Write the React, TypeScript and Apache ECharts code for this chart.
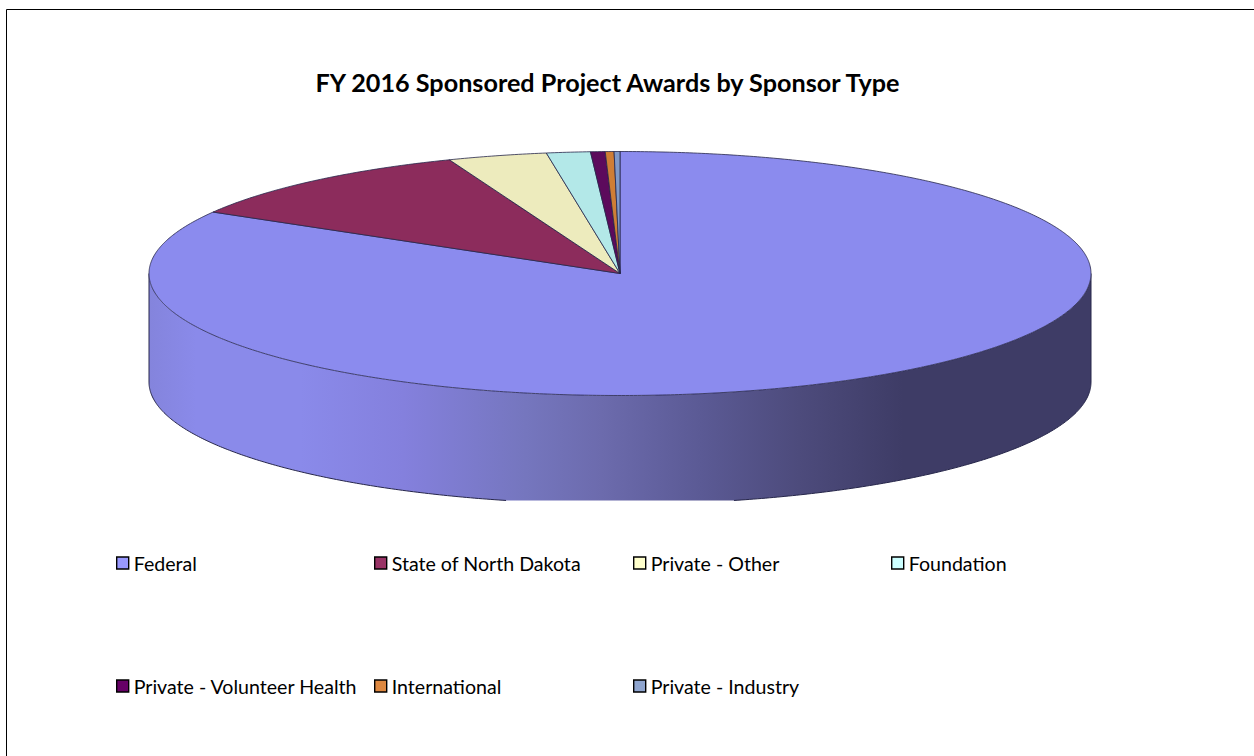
import React, { useEffect, useRef } from "react";
import * as echarts from "echarts";

const titleText = "FY 2016 Sponsored Project Awards by Sponsor Type";
const categories = [
  "Federal",
  "State of North Dakota",
  "Private - Other",
  "Foundation",
  "Private - Volunteer Health",
  "International",
  "Private - Industry",
];
const shares = [83.4, 10.7, 3.4, 1.5, 0.5, 0.3, 0.2];
const sliceColors = ["#8B8BEE", "#8C2C5C", "#EDEBBD", "#B3E8E8", "#5C0A5C", "#CF7E35", "#8099C8"];
const legendColors = ["#9999FF", "#993366", "#FFFFCC", "#CCFFFF", "#660066", "#DE8840", "#8FA5CF"];
const legendLeft = [116, 374, 633, 891, 116, 374, 633];
const legendTop = [553, 553, 553, 553, 676, 676, 676];

const cx = 620;
const cy = 273.5;
const rx = 471;
const ry = 122;
const depth = 108.6;
const clipY = 500.5;
const outline = "#26264a";
const total = shares.reduce((a, b) => a + b, 0);

const point = (deg: number, dy = 0): number[] => {
  const r = (deg * Math.PI) / 180;
  return [cx + rx * Math.sin(r), cy - ry * Math.cos(r) + dy];
};

const sweep = (from: number, to: number, dy = 0): number[][] => {
  const pts: number[][] = [];
  const n = Math.max(2, Math.ceil((to - from) / 0.5));
  for (let i = 0; i <= n; i++) pts.push(point(from + ((to - from) * i) / n, dy));
  return pts;
};

const wallGradient = () =>
  new echarts.graphic.LinearGradient(
    149,
    0,
    1091,
    0,
    [
      { offset: 0, color: "#8484DC" },
      { offset: 0.05, color: "#8A8AEA" },
      { offset: 0.16, color: "#8A8AEA" },
      { offset: 0.27, color: "#8480DD" },
      { offset: 0.4, color: "#7576BE" },
      { offset: 0.48, color: "#6C6BAD" },
      { offset: 0.585, color: "#5B5A95" },
      { offset: 0.69, color: "#4D4B7C" },
      { offset: 0.8, color: "#3E3C66" },
      { offset: 1, color: "#3E3C66" },
    ],
    true
  );

const renderSlice = (params: any, api: any) => {
  const idx = params.seriesIndex;
  const before = shares.slice(0, idx).reduce((a, b) => a + b, 0);
  const start = (before / total) * 360;
  const end = start + (api.value(0) / total) * 360;
  const children: any[] = [];

  const wallFrom = Math.max(start, 90);
  const wallTo = Math.min(end, 270);
  if (wallTo > wallFrom) {
    const topArc = sweep(wallFrom, wallTo);
    const bottomArc = sweep(wallFrom, wallTo, depth);
    const fillPts = topArc.concat(
      bottomArc.map((p) => [p[0], Math.min(p[1], clipY)]).reverse()
    );
    children.push({
      type: "polygon",
      shape: { points: fillPts },
      style: { fill: wallGradient(), stroke: null },
    });
    const visible = bottomArc.filter((p) => p[1] <= clipY);
    const rightPart = visible.filter((p) => p[0] > cx);
    const leftPart = visible.filter((p) => p[0] <= cx);
    [
      rightPart,
      leftPart,
      [point(90), point(90, depth)],
      [point(270), point(270, depth)],
    ].forEach((points) => {
      children.push({
        type: "polyline",
        shape: { points },
        style: { stroke: outline, lineWidth: 1, fill: null },
      });
    });
  }

  children.push({
    type: "polygon",
    shape: { points: [[cx, cy], ...sweep(start, end)] },
    style: { fill: sliceColors[idx], stroke: outline, lineWidth: 0.8, lineJoin: "round" },
  });
  return { type: "group", children };
};

export default function App() {
  const ref = useRef<HTMLDivElement>(null);

  useEffect(() => {
    document.body.style.margin = "0";
    const chart = echarts.init(ref.current!, null, { renderer: "svg" });
    chart.setOption({
      animation: false,
      backgroundColor: "#FFFFFF",
      title: {
        text: titleText,
        left: 602.5,
        top: 64.5,
        textAlign: "center",
        textStyle: {
          fontFamily: "Lato",
          fontWeight: "bold",
          fontSize: 25.2,
          color: "#000000",
        },
      },
      legend: categories.map((name, i) => ({
        show: true,
        data: [
          {
            name,
            icon: "rect",
            itemStyle: { color: legendColors[i], borderColor: "#000000", borderWidth: 1.4 },
          },
        ],
        left: legendLeft[i],
        top: legendTop[i],
        padding: 0,
        itemWidth: 12,
        itemHeight: 12,
        itemGap: 0,
        selectedMode: false,
        textStyle: {
          fontFamily: "Lato",
          fontSize: 19.6,
          color: "#000000",
        },
      })),
      graphic: [
        {
          type: "line",
          shape: { x1: 6.5, y1: 9.5, x2: 1254, y2: 9.5 },
          style: { stroke: "#000000", lineWidth: 1 },
        },
        {
          type: "line",
          shape: { x1: 6.5, y1: 9.5, x2: 6.5, y2: 756 },
          style: { stroke: "#000000", lineWidth: 1 },
        },
      ],
      series: categories.map((name, i) => ({
        type: "custom",
        name,
        coordinateSystem: "none",
        silent: true,
        itemStyle: { color: legendColors[i] },
        renderItem: renderSlice,
        data: [[shares[i]]],
      })),
    });
    return () => chart.dispose();
  }, []);

  return (
    <div
      ref={ref}
      style={{ position: "absolute", left: 0, top: 0, width: 1254, height: 756 }}
    />
  );
}
